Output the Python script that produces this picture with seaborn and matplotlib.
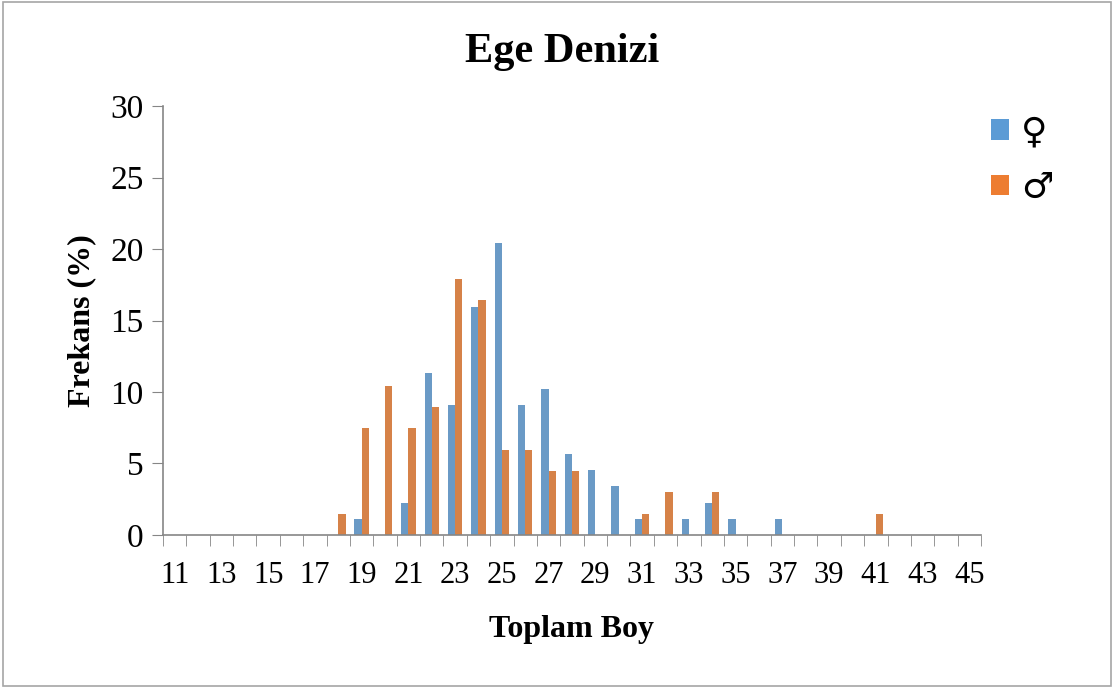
import numpy as np
import pandas as pd
import matplotlib

matplotlib.use("Agg")
import matplotlib.pyplot as plt
from matplotlib.patches import Patch, Rectangle
import seaborn as sns

# Total length classes (cm) and frequency (%) per sex
lengths = list(range(11, 46))
female = {19: 1.14, 21: 2.27, 22: 11.36, 23: 9.09, 24: 15.91, 25: 20.45,
          26: 9.09, 27: 10.23, 28: 5.68, 29: 4.55, 30: 3.41, 31: 1.14,
          33: 1.14, 34: 2.27, 35: 1.14, 37: 1.14}
male = {18: 1.49, 19: 7.46, 20: 10.45, 21: 7.46, 22: 8.96, 23: 17.91,
        24: 16.42, 25: 5.97, 26: 5.97, 27: 4.48, 28: 4.48, 31: 1.49,
        32: 2.99, 34: 2.99, 41: 1.49}
sex_labels = ["\u2640", "\u2642"]
colors = ["#5B9BD5", "#ED7D31"]

rows = []
for L in lengths:
    rows.append({"boy": str(L), "sex": sex_labels[0], "freq": female.get(L, 0.0)})
    rows.append({"boy": str(L), "sex": sex_labels[1], "freq": male.get(L, 0.0)})
df = pd.DataFrame(rows)

sns.set_style("white")
plt.rcParams["font.family"] = ["Liberation Serif", "DejaVu Sans"]
plt.rcParams["text.color"] = "black"
plt.rcParams["axes.labelcolor"] = "black"
plt.rcParams["xtick.labelcolor"] = "black"
plt.rcParams["ytick.labelcolor"] = "black"

fig = plt.figure(figsize=(11.14, 6.88), dpi=100)
ax = fig.add_axes([0.1463, 0.2224, 0.7343, 0.6235])

sns.barplot(
    data=df, x="boy", y="freq", hue="sex",
    order=[str(L) for L in lengths], hue_order=sex_labels,
    palette=colors, width=0.62, gap=0, legend=False,
    edgecolor="none", ax=ax,
)

ax.set_xlim(-0.5, len(lengths) - 0.5)
ax.set_ylim(0, 30)
ax.set_yticks(range(0, 31, 5))
ax.tick_params(axis="y", labelsize=24, length=8, color="#868686", direction="out",
               left=True, pad=6)

ax.set_xticks(range(0, len(lengths), 2))
ax.set_xticklabels([str(L) for L in lengths[::2]], fontsize=22)
ax.tick_params(axis="x", which="major", length=0, pad=19)
ax.set_xticks(np.arange(-0.5, len(lengths), 1), minor=True)
ax.tick_params(axis="x", which="minor", length=8, color="#868686", bottom=True)

for s in ["top", "right"]:
    ax.spines[s].set_visible(False)
for s in ["left", "bottom"]:
    ax.spines[s].set_color("#868686")
    ax.spines[s].set_linewidth(1.2)

ax.set_xlabel("Toplam Boy", fontsize=23, fontweight="bold", labelpad=18)
ax.set_ylabel("Frekans (%)", fontsize=23, fontweight="bold", labelpad=10)
fig.suptitle("Ege Denizi", fontsize=30.5, fontweight="bold", x=0.505, y=0.952)

handles = [Patch(facecolor=c, edgecolor="none") for c in colors]
fig.legend(handles, sex_labels, loc="upper left", bbox_to_anchor=(0.86, 0.88),
           frameon=False, prop={"family": ["DejaVu Sans"], "size": 26},
           handlelength=0.5, handleheight=0.5, handletextpad=0.35,
           labelspacing=0.6)

fig.patches.append(Rectangle((0.003, 0.003), 0.994, 0.994, transform=fig.transFigure,
                             fill=False, edgecolor="#A6A6A6", linewidth=1.2))

fig.savefig("out.png", dpi=100, facecolor="white")
